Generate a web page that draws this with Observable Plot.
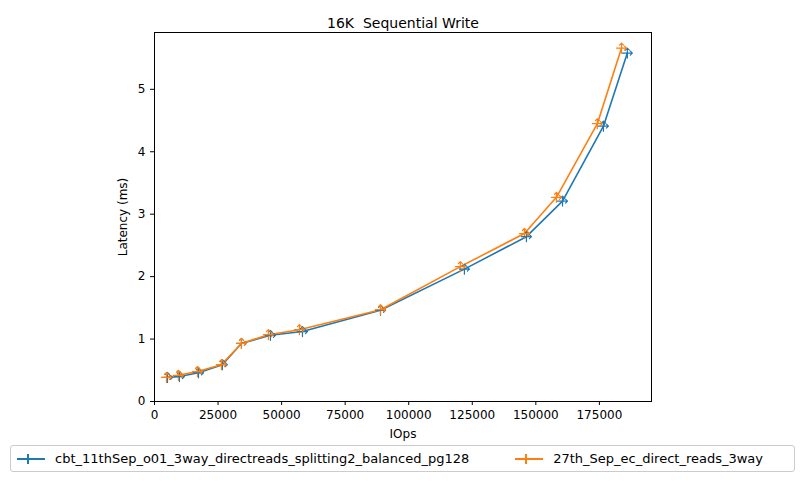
<!DOCTYPE html>
<html><head><meta charset="utf-8">
<script src="https://cdn.jsdelivr.net/npm/d3@7"></script>
<script src="https://cdn.jsdelivr.net/npm/@observablehq/plot@0.6"></script>
<style>
body{margin:0;background:#fff;font-family:"DejaVu Sans",sans-serif}
#wrap{position:relative;width:804px;height:481px}
#legend{position:absolute;left:10px;top:445px;width:785px;height:27px;border:1px solid #ccc;border-radius:3px;box-sizing:border-box;font-size:13px;display:flex;align-items:center}
.it{display:flex;align-items:center;margin-left:6px}
.sw{display:inline-block;width:28px;height:2px;margin-right:10px;position:relative}
.sw::after{content:"";position:absolute;left:10px;top:-4px;width:2px;height:10px;background:inherit}
</style></head><body>
<div id="wrap"><div id="chart"></div>
<div id="legend">
<span class="it"><span class="sw" style="background:#1f77b4"></span>cbt_11thSep_o01_3way_directreads_splitting2_balanced_pg128</span>
<span class="it" style="margin-left:46px"><span class="sw" style="background:#ff7f0e"></span>27th_Sep_ec_direct_reads_3way</span>
</div></div>
<script>
const names = ["cbt_11thSep_o01_3way_directreads_splitting2_balanced_pg128", "27th_Sep_ec_direct_reads_3way"];
const blueX = [5100, 9800, 17300, 26700, 34200, 45600, 58200, 88900, 121900, 146300, 160500, 176600, 186000];
const blueY = [0.385, 0.40, 0.46, 0.59, 0.93, 1.06, 1.12, 1.46, 2.12, 2.64, 3.21, 4.41, 5.58];
const orangeX = [4700, 9400, 16900, 26300, 34200, 44800, 57000, 88900, 120300, 145500, 158100, 174200, 183700];
const orangeY = [0.385, 0.42, 0.48, 0.59, 0.93, 1.07, 1.15, 1.47, 2.16, 2.69, 3.27, 4.45, 5.66];
const colors = ["#1f77b4", "#ff7f0e"];

const data = [
  ...blueX.map((x, i) => ({s: names[0], x, y: blueY[i]})),
  ...orangeX.map((x, i) => ({s: names[1], x, y: orangeY[i]}))
];

const chart = Plot.plot({
  width: 804, height: 481,
  marginTop: 32, marginBottom: 80, marginLeft: 154, marginRight: 153,
  style: {fontFamily: "DejaVu Sans", fontSize: "10px", color: "#000"},
  x: {domain: [0, 195500]},
  y: {domain: [0, 5.91]},
  color: {domain: names, range: colors},
  marks: [
    Plot.frame({stroke: "#000"}),
    Plot.axisX({ticks: d3.range(0, 175001, 25000), tickFormat: d => String(d), tickSize: 4, fontSize: 12, label: "IOps", labelAnchor: "center", labelArrow: "none", labelOffset: 36}),
    Plot.axisY({ticks: [0,1,2,3,4,5], tickFormat: d => String(d), tickSize: 4, fontSize: 12, label: "Latency (ms)", labelAnchor: "center", labelArrow: "none", labelOffset: 36}),
    Plot.line(data, {x: "x", y: "y", stroke: "s", strokeWidth: 1.6}),
    Plot.vector(data, {x: "x", y: "y", stroke: "s", length: 10, anchor: "middle", rotate: 0, strokeWidth: 1.2}),
    Plot.vector(data, {x: "x", y: "y", stroke: "s", length: 10, anchor: "middle", rotate: 90, strokeWidth: 1.2}),
    Plot.text(["16K  Sequential Write"], {frameAnchor: "top", dy: -14, fontSize: 14})
  ]
});
document.getElementById("chart").append(chart);
</script></body></html>
